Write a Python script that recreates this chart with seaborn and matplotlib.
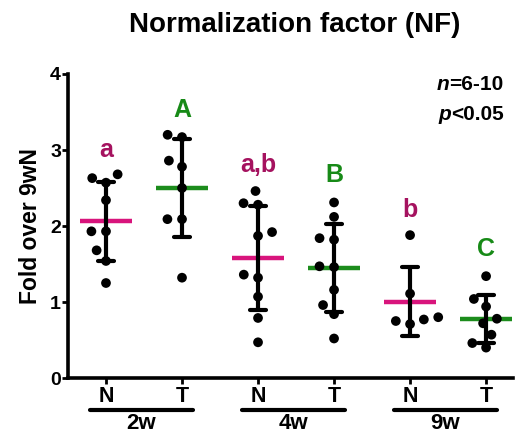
import pandas as pd
import matplotlib.pyplot as plt
import seaborn as sns

# values (fold over 9wN)
n_2w = [2.68, 2.63, 2.57, 2.34, 1.93, 1.93, 1.68, 1.54, 1.25]
t_2w = [3.17, 3.20, 2.86, 2.78, 2.50, 2.09, 2.09, 1.32]
n_4w = [2.46, 2.30, 2.28, 1.87, 1.92, 1.36, 1.32, 1.07, 0.79, 0.47]
t_4w = [2.31, 2.12, 1.82, 1.84, 1.47, 1.46, 1.16, 0.96, 0.84, 0.52]
n_9w = [1.88, 1.11, 0.77, 0.71, 0.80, 0.75]
t_9w = [1.34, 1.04, 0.94, 0.78, 0.72, 0.57, 0.46, 0.40]

groups = ["2w N", "2w T", "4w N", "4w T", "9w N", "9w T"]
tick_labels = ["N", "T", "N", "T", "N", "T"]
ages = ["2w", "4w", "9w"]
letters = ["a", "A", "a,b", "B", "b", "C"]
letter_y = [2.91, 3.43, 2.71, 2.58, 2.12, 1.60]

N_LINE = "#d8147c"
N_TEXT = "#a5125f"
T_LINE = "#1c8c1c"
T_TEXT = "#178a17"

rows = []
for g, vals in zip(groups, [n_2w, t_2w, n_4w, t_4w, n_9w, t_9w]):
    for v in vals:
        rows.append({"group": g, "value": v})
df = pd.DataFrame(rows)

line_pal = {g: (N_LINE if g.endswith("N") else T_LINE) for g in groups}

sns.set_style("ticks")
plt.rcParams["font.family"] = ["Liberation Sans", "DejaVu Sans"]
plt.rcParams["font.weight"] = "bold"
for k in ["text.color", "axes.labelcolor", "xtick.color", "ytick.color", "axes.edgecolor"]:
    plt.rcParams[k] = "black"

fig = plt.figure(figsize=(5.15, 4.34), dpi=100)
ax = fig.add_axes([0.132, 0.129, 0.865, 0.7005])

# mean lines
sns.pointplot(data=df, x="group", y="value", hue="group", order=groups, hue_order=groups,
              palette=line_pal, errorbar=None, markers="_", markersize=38,
              markeredgewidth=3.2, linestyle="none", legend=False, ax=ax)
for ln in ax.lines:
    ln.set_zorder(2)
n_before = len(ax.lines)

# mean +/- SD
sns.pointplot(data=df, x="group", y="value", order=groups, color="black",
              errorbar="sd", capsize=0.22, markers="o", markersize=0,
              linestyle="none", err_kws={"linewidth": 3}, ax=ax)
for ln in ax.lines[n_before:]:
    ln.set_zorder(3)

# individual points
sns.swarmplot(data=df, x="group", y="value", order=groups, color="black",
              size=7, linewidth=3, edgecolor="none", zorder=4, ax=ax)

ax.set_xlim(-0.5, 5.36)
ax.set_ylim(0, 4)
ax.set_yticks([0, 1, 2, 3, 4])
ax.set_xticks(range(6))
ax.set_xticklabels(tick_labels)
ax.set_xlabel("")
ax.set_ylabel("Fold over 9wN", fontsize=16.5, fontweight="bold", labelpad=6)
ax.tick_params(axis="x", width=2, length=4, labelsize=15.5, pad=2)
ax.tick_params(axis="y", width=2, length=4, labelsize=14, pad=1)
for lab in ax.get_xticklabels() + ax.get_yticklabels():
    lab.set_fontweight("bold")

sns.despine(ax=ax)
for s in ["left", "bottom"]:
    ax.spines[s].set_linewidth(2.6)

# significance letters
for i, (lt, y) in enumerate(zip(letters, letter_y)):
    col = N_TEXT if i % 2 == 0 else T_TEXT
    ax.text(i, y, lt, ha="center", va="baseline", fontsize=18, fontweight="bold", color=col)

# age group brackets under the axis
trans = ax.get_xaxis_transform()
for k, age in enumerate(ages):
    ax.plot([2 * k - 0.21, 2 * k + 1.14], [-0.105, -0.105], transform=trans,
            color="black", lw=3, clip_on=False, solid_capstyle="round")
    ax.text(2 * k + 0.46, -0.168, age, transform=trans, ha="center", va="baseline",
            fontsize=16, fontweight="bold")

# n / p annotation
t1 = ax.text(0.978, 0.947, "=6-10", transform=ax.transAxes, ha="right", va="baseline",
             fontsize=15, fontweight="bold")
ax.annotate("n", xy=(0, 0), xycoords=t1, ha="right", va="bottom",
            fontsize=15, fontweight="bold", style="italic")
t2 = ax.text(0.978, 0.848, "<0.05", transform=ax.transAxes, ha="right", va="baseline",
             fontsize=15, fontweight="bold")
ax.annotate("p", xy=(0, 0), xycoords=t2, ha="right", va="bottom",
            fontsize=15, fontweight="bold", style="italic")

fig.suptitle("Normalization factor (NF)", x=0.573, y=0.972, fontsize=20, fontweight="bold")

plt.savefig("out.png", dpi=100)
